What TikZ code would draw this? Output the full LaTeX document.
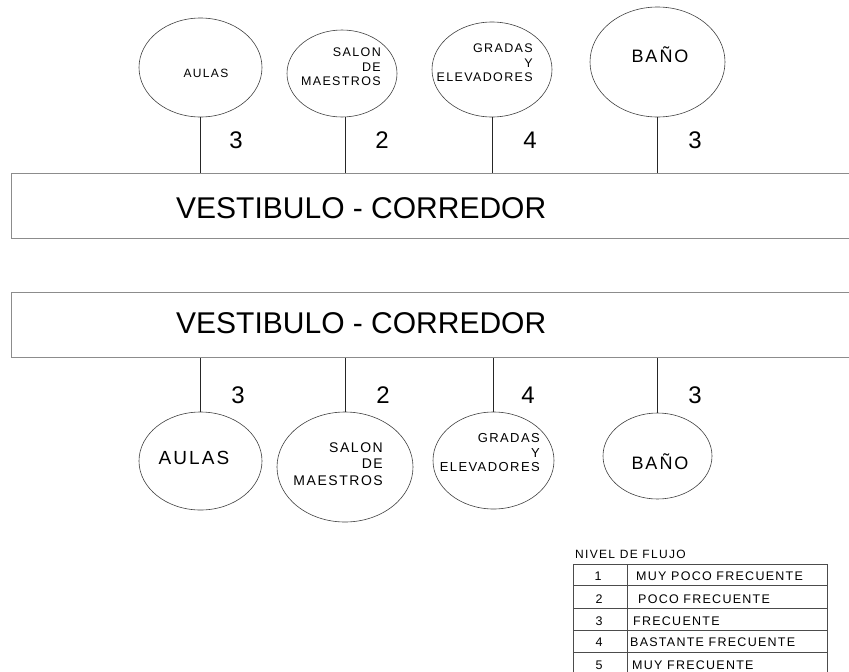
\documentclass[tikz,border=0pt]{standalone}
\usepackage{fontspec}
\setmainfont{Liberation Sans}
\newfontfamily\lsfont{Liberation Sans}[LetterSpace=11]
\newfontfamily\tbfont{Liberation Sans}[LetterSpace=10]
\usetikzlibrary{shapes.geometric}
\begin{document}
\begin{tikzpicture}[x=1pt,y=-1pt,
  ell/.style={ellipse, draw=black!75, line width=0.6pt, inner sep=0pt},
  corr/.style={rectangle, draw=black!45, line width=1.1pt, inner sep=0pt, anchor=north west},
  conn/.style={draw=black!85, line width=0.7pt},
  big/.style={font=\fontsize{30}{36}\selectfont, inner sep=0pt, anchor=west},
  num/.style={font=\fontsize{24}{28}\selectfont, inner sep=0pt},
  lbl/.style={inner sep=0pt, align=right},
  tline/.style={draw=black!70, line width=0.6pt},
  tcell/.style={font=\tbfont\fontsize{12.5}{14}\selectfont, inner sep=0pt}
]
\useasboundingbox (0,0) rectangle (849,672);

% ---------- top diagram ----------
\node[ell, minimum width=123, minimum height=99] (ta) at (200.5,67.5) {};
\node[ell, minimum width=110, minimum height=87] (ts) at (342,73.5) {};
\node[ell, minimum width=120, minimum height=95] (tg) at (492,69.5) {};
\node[ell, minimum width=135, minimum height=110] (tb) at (657.5,62) {};

\node[lbl, font=\lsfont\fontsize{12}{14}\selectfont] (tal) at (206,73) {AULAS};
\node[lbl, anchor=east, font=\lsfont\fontsize{12.5}{14.5}\selectfont] (tsl) at (381,67) {SALON\\DE\\MAESTROS};
\node[lbl, anchor=east, font=\lsfont\fontsize{12.5}{14.5}\selectfont] (tgl) at (533,63) {GRADAS\\Y\\ELEVADORES};
\node[lbl, font=\lsfont\fontsize{18}{20}\selectfont] (tbl) at (660,55) {BAÑO};

\node[corr, minimum width=860, minimum height=65] (v1) at (10.5,173) {};
\node[big] (v1t) at (176,208) {VESTIBULO - CORREDOR};

\draw[conn] (ta.south) -- (ta.south |- v1.north);
\draw[conn] (345,117) coordinate (ts1) -- (ts1 |- v1.north);
\draw[conn] (tg.south) -- (tg.south |- v1.north);
\draw[conn] (tb.south) -- (tb.south |- v1.north);

\node[num] (tn1) at (236,140) {3};
\node[num] (tn2) at (382,140) {2};
\node[num] (tn3) at (530,140) {4};
\node[num] (tn4) at (695,140) {3};

% ---------- bottom diagram ----------
\node[corr, minimum width=860, minimum height=65] (v2) at (10.5,292) {};
\node[big] (v2t) at (176,323) {VESTIBULO - CORREDOR};

\node[ell, minimum width=123, minimum height=98] (ba) at (200.5,461) {};
\node[ell, minimum width=136, minimum height=110] (bs) at (345,467) {};
\node[ell, minimum width=121, minimum height=97] (bg) at (493.5,460.5) {};
\node[ell, minimum width=109, minimum height=86] (bb) at (657.5,456) {};

\node[lbl, font=\lsfont\fontsize{19}{21}\selectfont] (bal) at (194,458) {AULAS};
\node[lbl, anchor=east, font=\lsfont\fontsize{14}{16.5}\selectfont] (bsl) at (383,464) {SALON\\DE\\MAESTROS};
\node[lbl, anchor=east, font=\lsfont\fontsize{13}{14.5}\selectfont] (bgl) at (540,453) {GRADAS\\Y\\ELEVADORES};
\node[lbl, font=\lsfont\fontsize{18}{20}\selectfont] (bbl) at (660,462) {BAÑO};

\draw[conn] (ba.north) -- (ba.north |- v2.south);
\draw[conn] (bs.north) -- (bs.north |- v2.south);
\draw[conn] (bg.north) -- (bg.north |- v2.south);
\draw[conn] (bb.north) -- (bb.north |- v2.south);

\node[num] (bn1) at (238,395) {3};
\node[num] (bn2) at (383,395) {2};
\node[num] (bn3) at (528,395) {4};
\node[num] (bn4) at (695,395) {3};

% ---------- legend table ----------
\node[inner sep=0pt, anchor=west, font=\lsfont\fontsize{12}{14}\selectfont] (hdr) at (575,554) {NIVEL DE FLUJO};
\draw[tline] (573,680) -- (573,564) -- (827,564) -- (827,680);
\draw[tline] (627,564) -- (627,680);
\foreach \yy in {585,608,630,652} \draw[tline] (573,\yy) -- (827,\yy);

\node[tcell] (n1) at (598,576.5) {1};
\node[tcell] (n2) at (599,599.5) {2};
\node[tcell] (n3) at (599,621.5) {3};
\node[tcell] (n4) at (599,642) {4};
\node[tcell] (n5) at (599,665) {5};
\node[tcell, anchor=west] (d1) at (636,576.5) {MUY POCO FRECUENTE};
\node[tcell, anchor=west] (d2) at (638,599.5) {POCO FRECUENTE};
\node[tcell, anchor=west] (d3) at (633,621.5) {FRECUENTE};
\node[tcell, anchor=west] (d4) at (630,642) {BASTANTE FRECUENTE};
\node[tcell, anchor=west] (d5) at (632,665) {MUY FRECUENTE};
\end{tikzpicture}
\end{document}
